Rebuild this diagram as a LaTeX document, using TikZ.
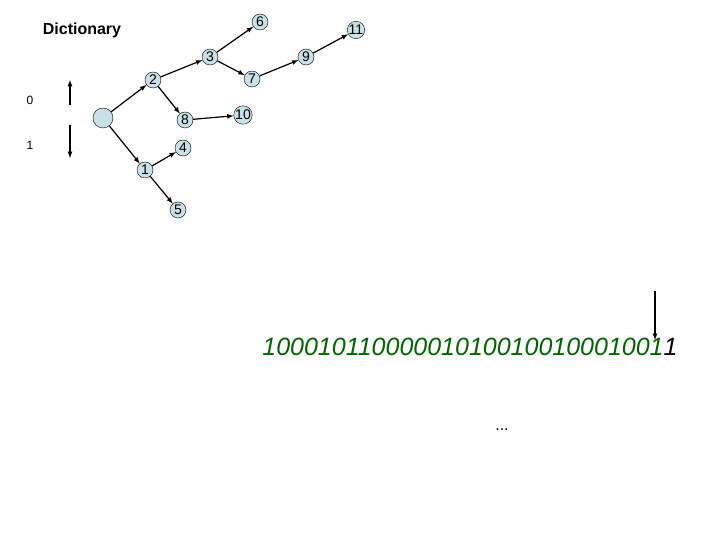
\documentclass[tikz,border=0pt]{standalone}
\usepackage{fontspec}
\setmainfont{Liberation Sans}
\begin{document}
\begin{tikzpicture}[x=1pt,y=-1pt,
  nd/.style={circle,draw=black,fill={rgb,255:red,200;green,225;blue,230},inner sep=0pt,minimum size=16pt,font=\fontsize{14}{14}\selectfont},
  ar/.style={-latex,line width=1.2pt}]
\useasboundingbox (0,0) rectangle (720,540);
\node[font=\bfseries\fontsize{16}{16}\selectfont] (dict) at (82,30) {Dictionary};
\node[nd,minimum size=20pt] (r) at (103,118) {};
\node[nd] (n2) at (153,80) {2};
\node[nd] (n3) at (210,57) {3};
\node[nd] (n6) at (260,22) {6};
\node[nd] (n7) at (252,79) {7};
\node[nd] (n9) at (306,57) {9};
\node[nd] (n11) at (356,30) {11};
\node[nd] (n8) at (185,120) {8};
\node[nd] (n10) at (243,115) {10};
\node[nd] (n4) at (183,148) {4};
\node[nd] (n1) at (145,170) {1};
\node[nd] (n5) at (178,210) {5};
\draw[ar] (r)--(n2); \draw[ar] (r)--(n1);
\draw[ar] (n2)--(n3); \draw[ar] (n2)--(n8);
\draw[ar] (n3)--(n6); \draw[ar] (n3)--(n7);
\draw[ar] (n7)--(n9); \draw[ar] (n9)--(n11);
\draw[ar] (n8)--(n10);
\draw[ar] (n1)--(n4); \draw[ar] (n1)--(n5);
\coordinate (ua) at (70,105); \coordinate (ub) at (70,80);
\draw[ar] (ua)--(ub);
\coordinate (da) at (70,125); \coordinate (db) at (70,158);
\draw[ar] (da)--(db);
\node[font=\fontsize{12}{12}\selectfont] (z) at (30,100) {0};
\node[font=\fontsize{12}{12}\selectfont] (o) at (30,145) {1};
\node[font=\itshape\fontsize{25}{25}\selectfont,inner sep=0pt] (bits) at (470,347) {\textcolor[rgb]{0,0.4,0}{10001011000001010010010001001}1};
\coordinate (ta) at (655,291); \coordinate (tb) at (655,340);
\draw[ar] (ta)--(tb);
\node[font=\fontsize{16}{16}\selectfont] (dots) at (502,430) {...};
\end{tikzpicture}
\end{document}
